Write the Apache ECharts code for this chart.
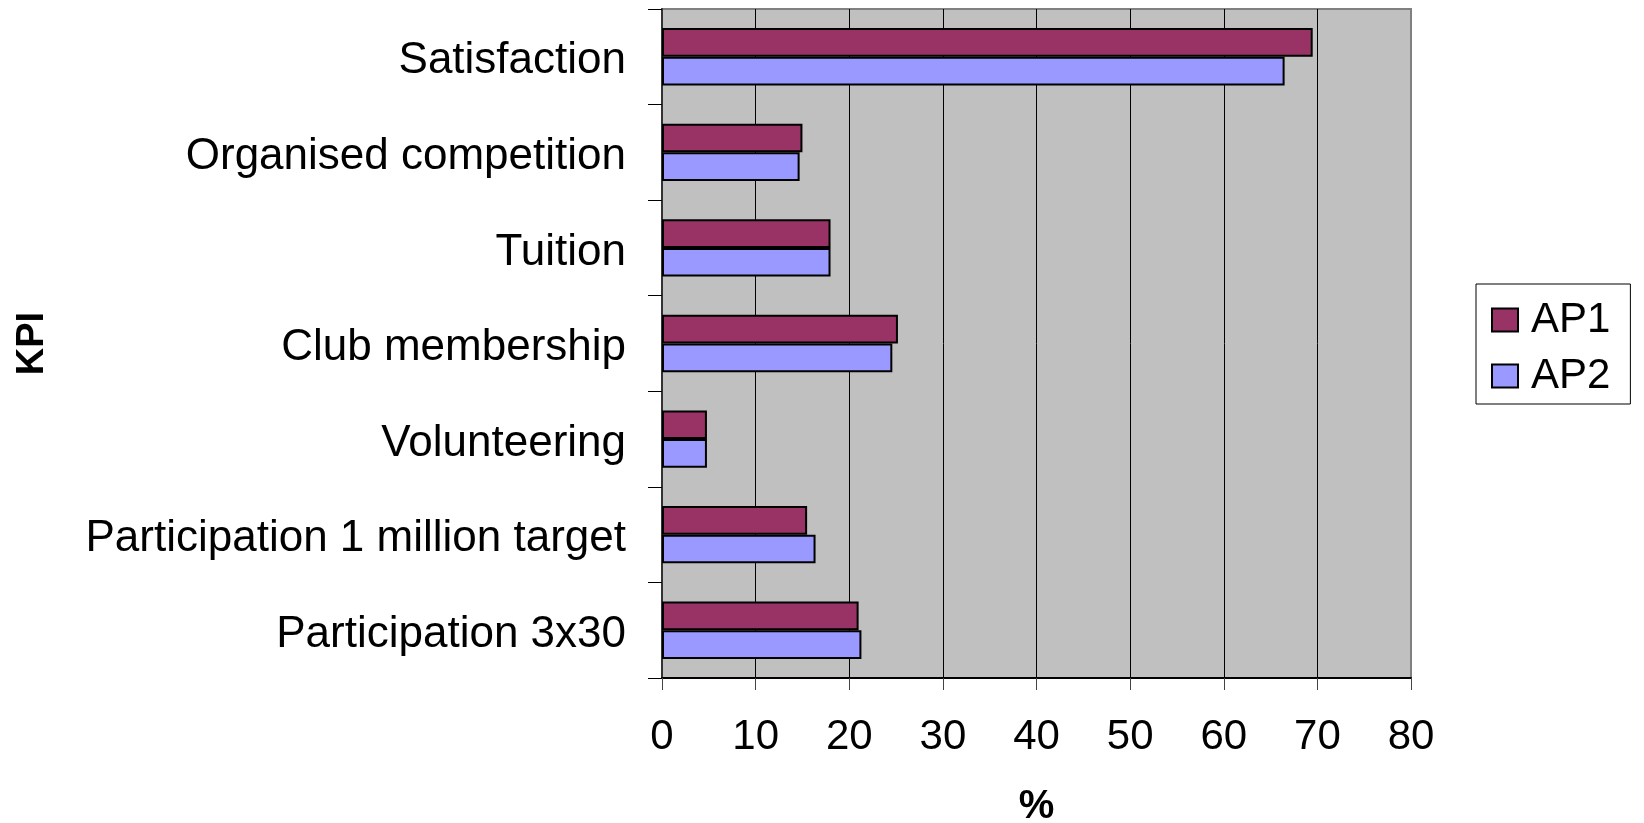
<!DOCTYPE html>
<html>
<head>
<meta charset="utf-8">
<script src="https://cdn.jsdelivr.net/npm/echarts@6/dist/echarts.min.js"></script>
<style>
html,body{margin:0;padding:0;background:#fff;}
#chart{width:1644px;height:823px;}
</style>
</head>
<body>
<div id="chart"></div>
<script>
const categories = ["Satisfaction", "Organised competition", "Tuition", "Club membership", "Volunteering", "Participation 1 million target", "Participation 3x30"];
const ap1 = [69.5, 15.0, 18.0, 25.2, 4.8, 15.5, 21.0];
const ap2 = [66.5, 14.7, 18.0, 24.6, 4.8, 16.4, 21.3];
const xTicks = [0, 10, 20, 30, 40, 50, 60, 70, 80];

const FONT = '"Liberation Sans", Arial, sans-serif';
const chart = echarts.init(document.getElementById('chart'), null, {renderer: 'canvas'});
chart.setOption({
  animation: false,
  backgroundColor: '#ffffff',
  textStyle: {fontFamily: FONT, color: '#000'},
  grid: {
    left: 662, top: 9, width: 749, height: 669,
    show: true, backgroundColor: '#C0C0C0', borderColor: '#808080', borderWidth: 2,
    containLabel: false,
    outerBoundsMode: 'none'
  },
  legend: {
    orient: 'vertical',
    left: 1476, top: 284,
    padding: [15, 20, 7, 15],
    itemGap: 14,
    itemWidth: 26, itemHeight: 23,
    borderColor: '#000', borderWidth: 1,
    backgroundColor: '#fff',
    icon: 'rect',
    textStyle: {fontSize: 42, fontFamily: FONT, color: '#000', lineHeight: 42, padding: [0, 0, 0, 8]},
    data: ['AP1', 'AP2']
  },
  xAxis: {
    type: 'value',
    min: xTicks[0], max: xTicks[xTicks.length - 1], interval: 10,
    name: '%', nameLocation: 'middle', nameGap: 109,
    nameTextStyle: {fontSize: 40, fontWeight: 'bold', fontFamily: FONT, color: '#000'},
    axisLine: {show: true, lineStyle: {color: '#000', width: 2}},
    axisTick: {show: true, length: 12, lineStyle: {color: '#444', width: 1}},
    axisLabel: {fontSize: 42, margin: 38, color: '#000', fontFamily: FONT,
      formatter: v => String(v)},
    splitLine: {show: true, showMinLine: false, showMaxLine: false, lineStyle: {color: '#000', width: 1}}
  },
  yAxis: {
    type: 'category',
    data: categories,
    inverse: true,
    name: 'KPI', nameLocation: 'middle', nameGap: 610, nameRotate: 90,
    nameTextStyle: {fontSize: 38, fontWeight: 'bold', fontFamily: FONT, color: '#000'},
    axisLine: {show: true, lineStyle: {color: '#333', width: 2}},
    axisTick: {show: true, length: 14, alignWithLabel: false, lineStyle: {color: '#000', width: 1}},
    axisLabel: {
      margin: 36, color: '#000', fontFamily: FONT,
      formatter: v => '{a|' + v + '}',
      rich: {a: {fontSize: 44, fontFamily: FONT, color: '#000', padding: [9, 0, 0, 0]}}
    },
    splitLine: {show: false}
  },
  series: [
    {
      name: 'AP1', type: 'bar', data: ap1,
      barGap: '0%', barCategoryGap: '40%',
      itemStyle: {color: '#993366', borderColor: '#000', borderWidth: 2}
    },
    {
      name: 'AP2', type: 'bar', data: ap2,
      barGap: '0%', barCategoryGap: '40%',
      itemStyle: {color: '#9999FF', borderColor: '#000', borderWidth: 2}
    }
  ]
});
</script>
</body>
</html>
